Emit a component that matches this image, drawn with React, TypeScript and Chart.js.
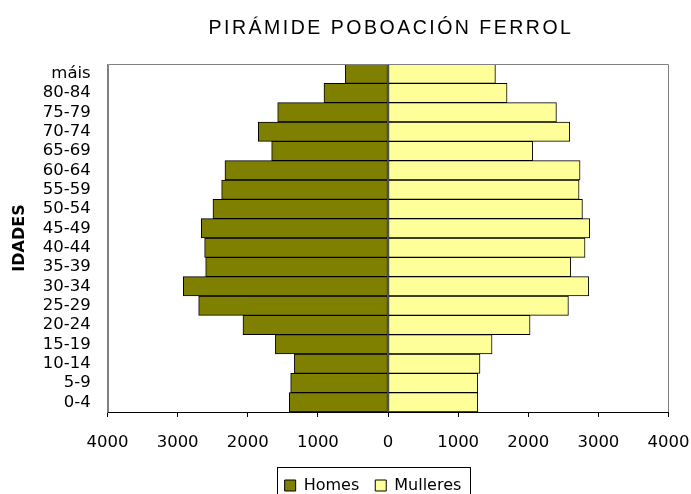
import React, { useEffect, useRef } from "react";
import { Chart, registerables } from "chart.js";

Chart.register(...registerables);

const ageGroups = ["0-4", "5-9", "10-14", "15-19", "20-24", "25-29", "30-34", "35-39", "40-44", "45-49", "50-54", "55-59", "60-64", "65-69", "70-74", "75-79", "80-84", "máis"];
const homes = [1407, 1388, 1335, 1606, 2068, 2700, 2919, 2600, 2615, 2662, 2496, 2372, 2325, 1659, 1849, 1573, 913, 608];
const mulleres = [1280, 1280, 1312, 1484, 2026, 2573, 2863, 2606, 2810, 2877, 2773, 2725, 2739, 2064, 2592, 2402, 1698, 1532];
const xTicks = [-4000, -3000, -2000, -1000, 0, 1000, 2000, 3000, 4000];

const FONT = "'DejaVu Sans', Verdana, sans-serif";
const TITLE_FONT = "Arial, 'Liberation Sans', sans-serif";
const LEGEND_PAD = 16;

const frame = {
  id: "frame",
  afterLayout(chart: any) {
    const l = chart.legend;
    if (l) {
      l.left -= 15;
      l.right -= 15;
      l.top += 9.5;
      l.bottom += 9.5;
    }
    const tb = chart.titleBlock;
    if (tb) {
      tb.left += 3;
      tb.right += 3;
      if (!tb.__patched) {
        const orig = tb.draw.bind(tb);
        tb.draw = (...args: any[]) => {
          const ctx = chart.ctx;
          const prev = ctx.letterSpacing;
          ctx.letterSpacing = "2.5px";
          orig(...args);
          ctx.letterSpacing = prev;
        };
        tb.__patched = true;
      }
    }
  },
  afterDatasetsDraw(chart: any) {
    const { ctx, chartArea: a } = chart;
    ctx.save();
    ctx.strokeStyle = "#808080";
    ctx.lineWidth = 1;
    const L = Math.round(a.left) + 0.5;
    const R = Math.round(a.right) - 0.5;
    const T = Math.round(a.top) + 0.5;
    const B = Math.round(a.bottom);
    ctx.beginPath();
    ctx.moveTo(L, B);
    ctx.lineTo(L, T);
    ctx.lineTo(R, T);
    ctx.lineTo(R, B);
    ctx.stroke();
    ctx.restore();
  },
  afterDraw(chart: any) {
    const l = chart.legend;
    if (!l || !l.lineWidths) return;
    const { ctx } = chart;
    const lw = l.lineWidths[0];
    const x0 = (l.left + LEGEND_PAD + l.right - lw) / 2;
    const left = Math.round(x0 - 8) + 0.5;
    const right = Math.round(x0 + lw - LEGEND_PAD + 9) + 0.5;
    const top = 467.5;
    ctx.save();
    ctx.strokeStyle = "#000";
    ctx.lineWidth = 1;
    ctx.strokeRect(left, top, right - left, 40);
    ctx.restore();
  },
};

export default function App() {
  const ref = useRef<HTMLCanvasElement>(null);
  useEffect(() => {
    if (!ref.current) return;
    const chart = new Chart(ref.current, {
      type: "bar",
      data: {
        labels: ageGroups,
        datasets: [
          {
            label: "Homes",
            data: homes.map((v) => -v),
            backgroundColor: "#808000",
            borderColor: "#000",
            borderWidth: 1,
            borderSkipped: false,
            barPercentage: 1,
            categoryPercentage: 1,
          },
          {
            label: "Mulleres",
            data: mulleres,
            backgroundColor: "#FFFF99",
            borderColor: "#000",
            borderWidth: 1,
            borderSkipped: false,
            barPercentage: 1,
            categoryPercentage: 1,
          },
        ],
      },
      options: {
        indexAxis: "y",
        animation: false,
        responsive: true,
        maintainAspectRatio: false,
        layout: { padding: { top: 8, right: 22.5, bottom: 0, left: 8 } },
        plugins: {
          tooltip: { enabled: false },
          title: {
            display: true,
            fullSize: false,
            text: "PIRÁMIDE POBOACIÓN FERROL",
            color: "#000",
            font: { family: TITLE_FONT, size: 19.5, weight: "normal" },
            padding: { top: 9, bottom: 23.6 },
          },
          legend: {
            position: "bottom",
            fullSize: false,
            maxHeight: 44.5,
            labels: {
              color: "#000",
              font: { family: FONT, size: 16 },
              boxWidth: 11,
              boxHeight: 11,
              padding: LEGEND_PAD,
            },
          },
        },
        scales: {
          x: {
            stacked: true,
            min: -4000,
            max: 4000,
            afterBuildTicks: (axis: any) => {
              axis.ticks = xTicks.map((v) => ({ value: v }));
            },
            afterFit: (axis: any) => {
              axis.paddingLeft = 0;
              axis.paddingRight = 0;
              axis.height = 40;
            },
            ticks: {
              color: "#000",
              font: { family: FONT, size: 16.5 },
              padding: 15.5,
              maxRotation: 0,
              callback: (v: any) => String(Math.abs(Number(v))),
            },
            grid: { display: true, drawOnChartArea: false, drawTicks: true, tickLength: 5, color: "#000" },
            border: { display: true, color: "#000" },
          },
          y: {
            stacked: true,
            reverse: true,
            afterFit: (axis: any) => {
              axis.paddingTop = 0;
              axis.paddingBottom = 0;
              axis.width = 99.5;
            },
            ticks: { color: "#000", font: { family: FONT, size: 16.5 }, padding: 16.8, autoSkip: false },
            grid: { display: false, drawTicks: false },
            border: { display: true, color: "#808080" },
            title: {
              display: true,
              text: "IDADES",
              color: "#000",
              font: { family: FONT, size: 16, weight: "bold" },
              padding: { top: 2.4, bottom: 13.2 },
            },
          },
        },
      },
      plugins: [frame],
    });
    return () => chart.destroy();
  }, []);
  return (
    <div style={{ position: "absolute", left: 0, top: 0, width: 691, height: 494, background: "#fff" }}>
      <canvas ref={ref} />
    </div>
  );
}
